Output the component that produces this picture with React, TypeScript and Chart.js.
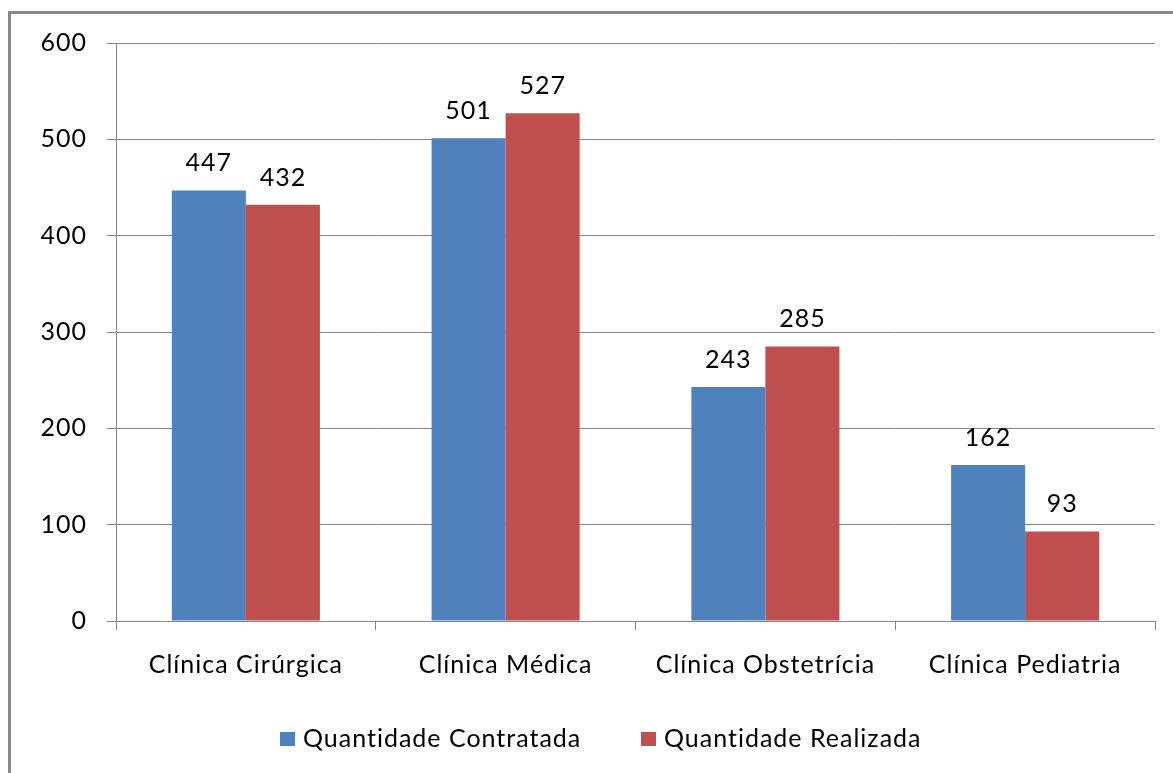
import React, { useEffect, useRef } from "react";
import { Chart, registerables } from "chart.js";

Chart.register(...registerables);

const categories = ["Clínica Cirúrgica", "Clínica Médica", "Clínica Obstetrícia", "Clínica Pediatria"];
const seriesNames = ["Quantidade Contratada", "Quantidade Realizada"];
const contratada = [447, 501, 243, 162];
const realizada = [432, 527, 285, 93];
const seriesColors = ["#4F81BD", "#C0504D"];
const yTicks = [0, 100, 200, 300, 400, 500, 600];

const FONT = "Lato";
const FS = 25;
const GRID = "#868686";

const framePlugin = {
  id: "frame",
  beforeDraw(chart: any) {
    const ctx = chart.ctx;
    ctx.save();
    ctx.fillStyle = "#ffffff";
    ctx.fillRect(0, 0, chart.width, chart.height);
    ctx.fillStyle = "#898989";
    ctx.fillRect(8, 11, 3, chart.height - 11);
    ctx.fillRect(8, 11, chart.width - 8, 3);
    ctx.restore();
    (ctx as any).letterSpacing = "1px";
  },
};

const valueLabelPlugin = {
  id: "valueLabels",
  afterDatasetsDraw(chart: any) {
    const ctx = chart.ctx;
    ctx.save();
    ctx.font = `${FS}px ${FONT}`;
    ctx.letterSpacing = "1px";
    ctx.fillStyle = "#000";
    ctx.textAlign = "center";
    ctx.textBaseline = "alphabetic";
    chart.data.datasets.forEach((ds: any, i: number) => {
      const meta = chart.getDatasetMeta(i);
      meta.data.forEach((bar: any, j: number) => {
        ctx.fillText(String(ds.data[j]), bar.x, bar.y - 19);
      });
    });
    ctx.restore();
  },
};

const legendPlugin = {
  id: "customLegend",
  afterDraw(chart: any) {
    const ctx = chart.ctx;
    ctx.save();
    ctx.font = `${FS}px ${FONT}`;
    ctx.letterSpacing = "1px";
    ctx.textBaseline = "middle";
    ctx.textAlign = "left";
    const starts = [280, 641];
    const cy = 739;
    chart.data.datasets.forEach((ds: any, i: number) => {
      const x = starts[i];
      ctx.fillStyle = ds.backgroundColor;
      ctx.fillRect(x, cy - 7, 15, 14);
      ctx.fillStyle = "#000";
      ctx.fillText(ds.label, x + 23, cy);
    });
    ctx.restore();
  },
};

export default function App() {
  const ref = useRef<HTMLCanvasElement>(null);
  useEffect(() => {
    if (!ref.current) return;
    const chart = new Chart(ref.current, {
      type: "bar",
      data: {
        labels: categories,
        datasets: [
          { label: seriesNames[0], data: contratada, backgroundColor: seriesColors[0] },
          { label: seriesNames[1], data: realizada, backgroundColor: seriesColors[1] },
        ],
      },
      options: {
        responsive: false,
        animation: false,
        devicePixelRatio: 1,
        layout: { padding: { top: 43, right: 18, bottom: 92, left: 0 } },
        datasets: { bar: { categoryPercentage: 0.57, barPercentage: 1 } },
        plugins: { legend: { display: false }, tooltip: { enabled: false } },
        scales: {
          x: {
            grid: { display: true, drawOnChartArea: false, drawTicks: true, tickLength: 9, color: GRID, offset: true },
            border: { color: GRID },
            ticks: { font: { family: FONT, size: FS }, color: "#000", padding: 20 },
            afterFit: (s: any) => { s.height = 60; },
          },
          y: {
            min: 0,
            max: 600,
            afterBuildTicks: (s: any) => { s.ticks = yTicks.map((v) => ({ value: v })); },
            grid: { color: GRID, tickLength: 9, drawTicks: true },
            border: { color: GRID },
            ticks: { font: { family: FONT, size: FS }, color: "#000", padding: 20 },
            afterFit: (s: any) => { s.width = 116; },
          },
        },
      },
      plugins: [framePlugin, valueLabelPlugin, legendPlugin],
    });
    return () => chart.destroy();
  }, []);
  return (
    <div style={{ position: "fixed", left: 0, top: 0, width: 1173, height: 773, background: "#fff" }}>
      <canvas ref={ref} width={1173} height={773} style={{ display: "block" }} />
    </div>
  );
}
